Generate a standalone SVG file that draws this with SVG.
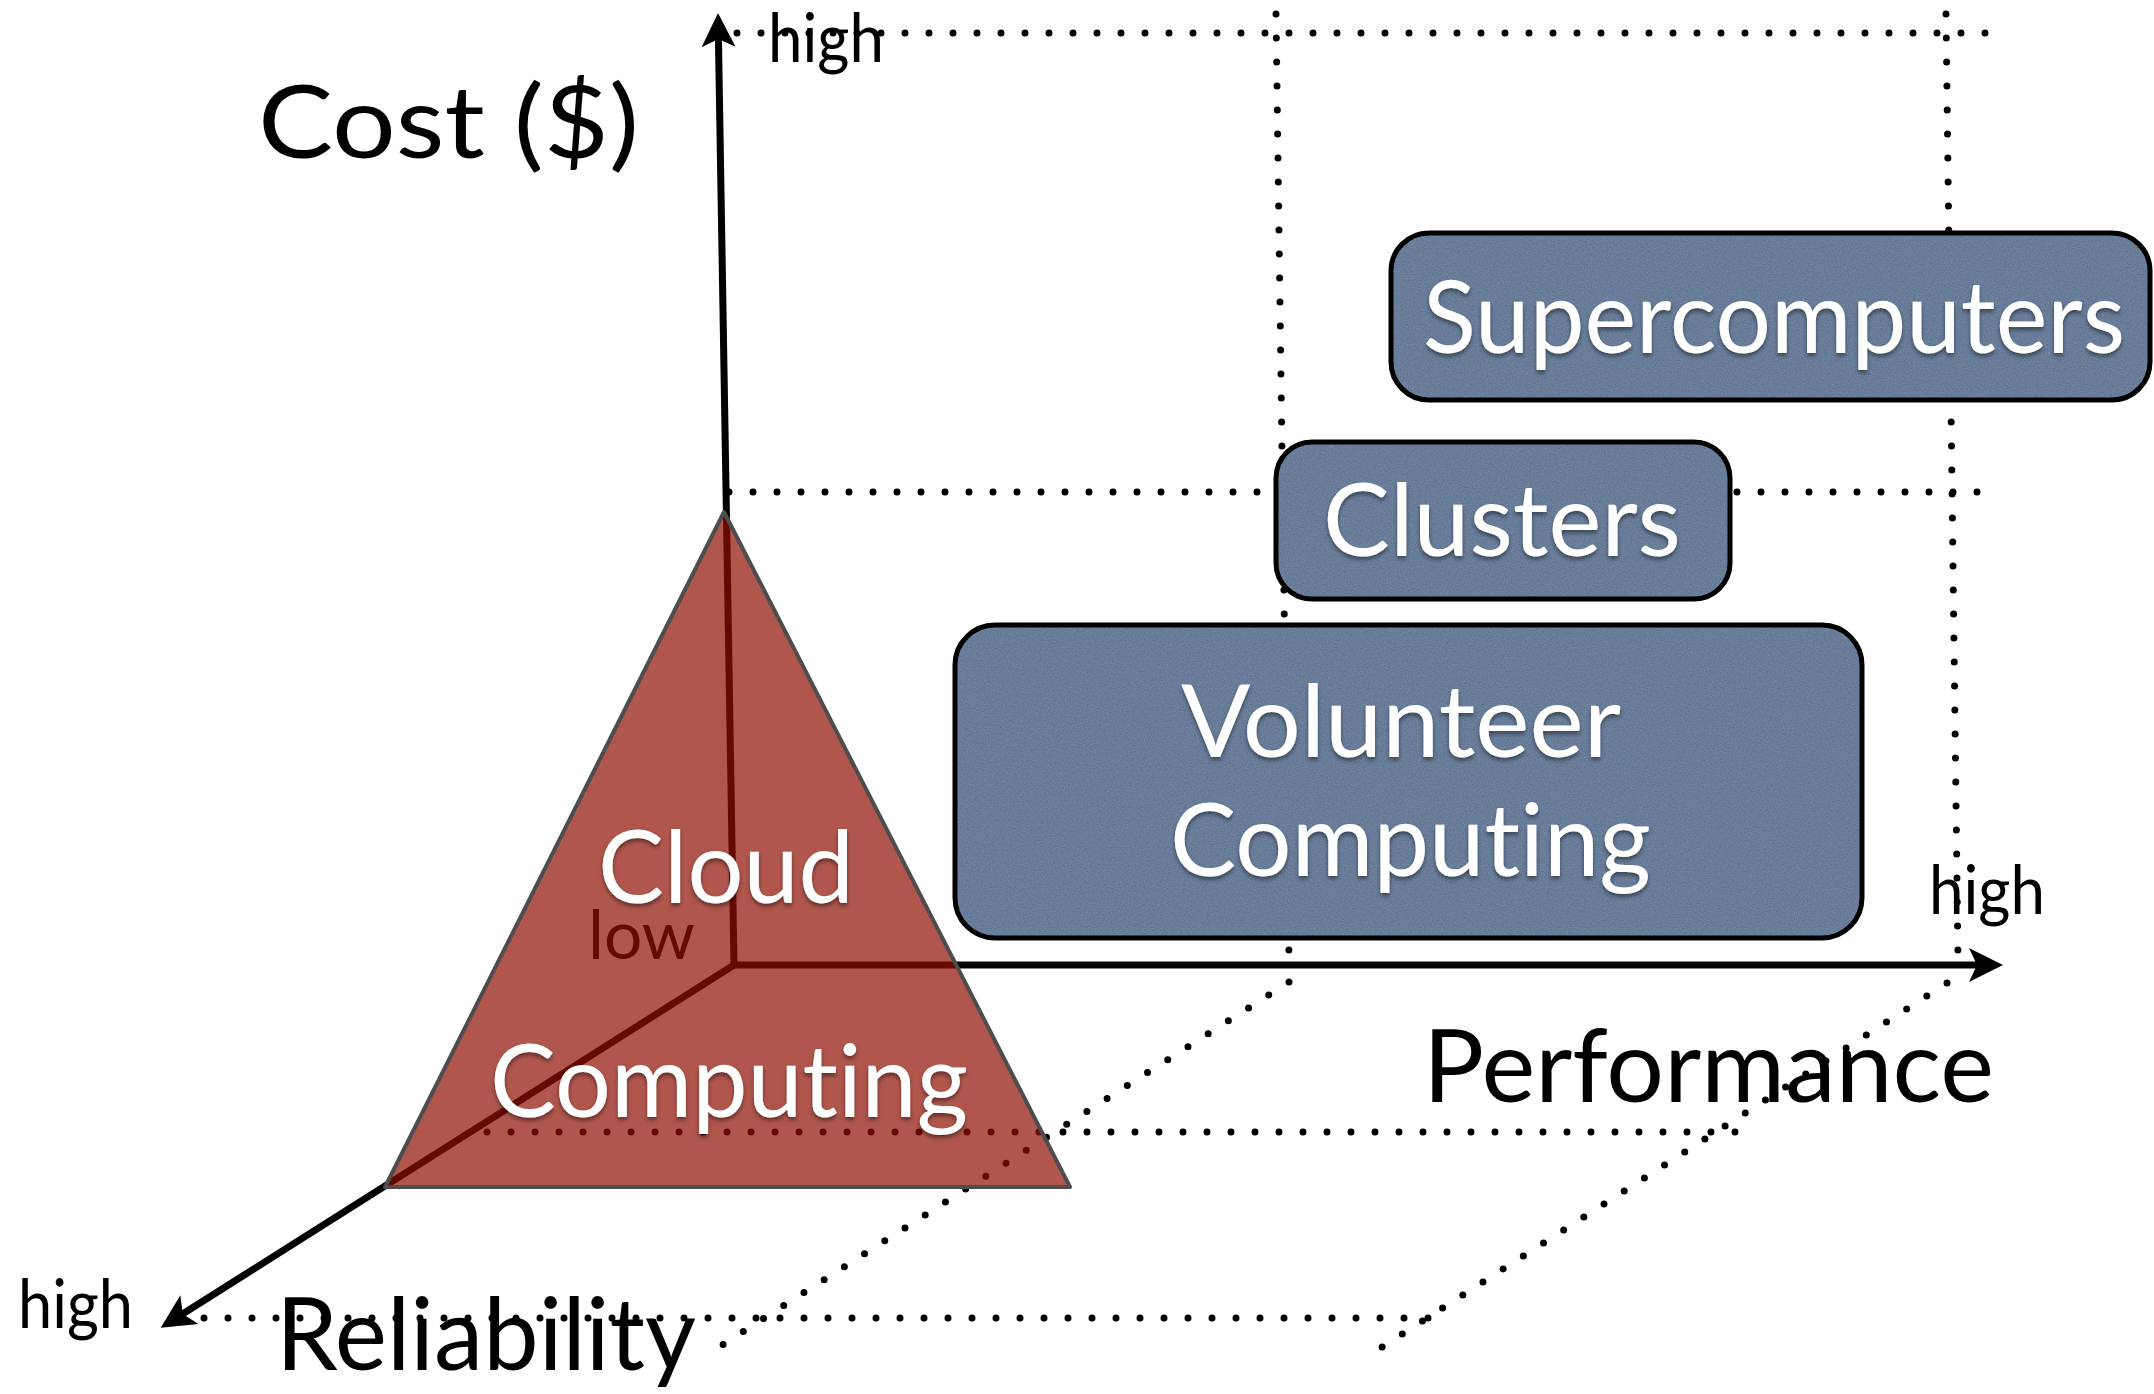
<svg xmlns="http://www.w3.org/2000/svg" width="2154" height="1394" viewBox="0 0 2154 1394">
  <defs>
    <style>
      .dots { fill: none; stroke: #000; stroke-width: 7; stroke-linecap: round; stroke-dasharray: 0 24; }
      .axis { fill: none; stroke: #000; stroke-width: 7; }
      .big, .small { font-family: Lato, "Liberation Sans", sans-serif; font-variant-ligatures: none; font-feature-settings: "liga" 0, "clig" 0; }
      .big { font-size: 100px; }
      .small { font-size: 68px; }
      .white { fill: #fff; filter: url(#textShadow); }
      .dark { fill: #000; }
      .box-fill { fill: rgb(84,114,148); stroke: none; filter: url(#grain); }
      .box-edge { fill: none; stroke: #000; stroke-width: 5; }
    </style>
    <marker id="arrow" markerUnits="userSpaceOnUse" viewBox="-36 -19 38 38" refX="-24" refY="0" markerWidth="38" markerHeight="38" orient="auto">
      <path d="M0,0 L-34,-17 L-26,0 L-34,17 Z" fill="#000"/>
    </marker>
    <filter id="textShadow" x="-10%" y="-20%" width="120%" height="150%">
      <feGaussianBlur in="SourceAlpha" stdDeviation="2"/>
      <feOffset dx="0" dy="3" result="blur"/>
      <feFlood flood-color="#000" flood-opacity="0.45"/>
      <feComposite in2="blur" operator="in"/>
      <feMerge>
        <feMergeNode/>
        <feMergeNode in="SourceGraphic"/>
      </feMerge>
    </filter>
    <!-- paper-like grain on the blue boxes -->
    <filter id="grain" x="0" y="0" width="100%" height="100%">
      <feTurbulence type="fractalNoise" baseFrequency="0.7" numOctaves="3" seed="7" result="noise"/>
      <feColorMatrix in="noise" type="matrix" values="1 0 0 0 0  1 0 0 0 0  1 0 0 0 0  0 0 0 0 0.12" result="grey"/>
      <feComposite in="grey" in2="SourceGraphic" operator="in" result="grainy"/>
      <feMerge>
        <feMergeNode in="SourceGraphic"/>
        <feMergeNode in="grainy"/>
      </feMerge>
    </filter>
  </defs>

  <rect width="2154" height="1394" fill="#fff"/>

  <!-- dotted guide lines of the 3D frame -->
  <g id="guides">
    <line class="dots" x1="737" y1="33" x2="1986" y2="33"/>
    <line class="dots" x1="729" y1="492" x2="1980" y2="492"/>
    <line class="dots" x1="1276" y1="14" x2="1289" y2="958"/>
    <line class="dots" x1="1946" y1="14" x2="1958" y2="958"/>
    <line class="dots" x1="1289" y1="982" x2="719" y2="1347"/>
    <line class="dots" x1="1947" y1="983" x2="1382" y2="1347"/>
    <line class="dots" x1="487" y1="1132" x2="1739" y2="1132"/>
    <line class="dots" x1="204" y1="1318" x2="1433" y2="1318"/>
  </g>

  <!-- axes -->
  <g id="connectors">
    <line id="axis-cost" class="axis" x1="734" y1="965" x2="718.4" y2="37" marker-end="url(#arrow)"/>
    <line id="axis-performance" class="axis" x1="731" y1="965" x2="1979" y2="965" marker-end="url(#arrow)"/>
    <line id="axis-reliability" class="axis" x1="734" y1="965" x2="181" y2="1315" marker-end="url(#arrow)"/>
  </g>

  <!-- origin label, sits under the translucent pyramid -->
  <text id="label-low" class="small dark" x="588" y="959" textLength="107" lengthAdjust="spacingAndGlyphs">low</text>

  <!-- Cloud Computing pyramid -->
  <g id="node-cloud">
    <polygon points="724,512 385,1187 1070,1187" fill="rgb(142,14,0)" fill-opacity="0.7" stroke="#4d4d4d" stroke-width="4" stroke-linejoin="round"/>
    <text class="big white" x="598" y="903" textLength="256" lengthAdjust="spacingAndGlyphs">Cloud</text>
    <text class="big white" x="490" y="1117" textLength="478" lengthAdjust="spacingAndGlyphs">Computing</text>
  </g>

  <g id="node-supercomputers">
    <rect class="box-fill" x="1391" y="233" width="759" height="167" rx="38" ry="38"/>
    <rect class="box-edge" x="1391" y="233" width="759" height="167" rx="38" ry="38"/>
    <text class="big white" x="1423" y="353" textLength="702" lengthAdjust="spacingAndGlyphs">Supercomputers</text>
  </g>

  <g id="node-clusters">
    <rect class="box-fill" x="1276" y="442" width="454" height="157" rx="36" ry="36"/>
    <rect class="box-edge" x="1276" y="442" width="454" height="157" rx="36" ry="36"/>
    <text class="big white" x="1323" y="556" textLength="358" lengthAdjust="spacingAndGlyphs">Clusters</text>
  </g>

  <g id="node-volunteer">
    <rect class="box-fill" x="955" y="625" width="907" height="313" rx="40" ry="40"/>
    <rect class="box-edge" x="955" y="625" width="907" height="313" rx="40" ry="40"/>
    <text class="big white" x="1181" y="757" textLength="440" lengthAdjust="spacingAndGlyphs">Volunteer</text>
    <text class="big white" x="1170" y="876" textLength="481" lengthAdjust="spacingAndGlyphs">Computing</text>
  </g>

  <!-- axis titles and end labels -->
  <g id="labels">
    <text class="big dark" x="258" y="158" textLength="381" lengthAdjust="spacingAndGlyphs">Cost ($)</text>
    <text class="small dark" x="768" y="62" textLength="116" lengthAdjust="spacingAndGlyphs">high</text>
    <text class="small dark" x="1929" y="914" textLength="116" lengthAdjust="spacingAndGlyphs">high</text>
    <text class="big dark" x="1423" y="1102" textLength="571" lengthAdjust="spacingAndGlyphs">Performance</text>
    <text class="small dark" x="18" y="1328" textLength="115" lengthAdjust="spacingAndGlyphs">high</text>
    <text class="big dark" x="276" y="1370" textLength="420" lengthAdjust="spacingAndGlyphs">Reliability</text>
  </g>
</svg>
